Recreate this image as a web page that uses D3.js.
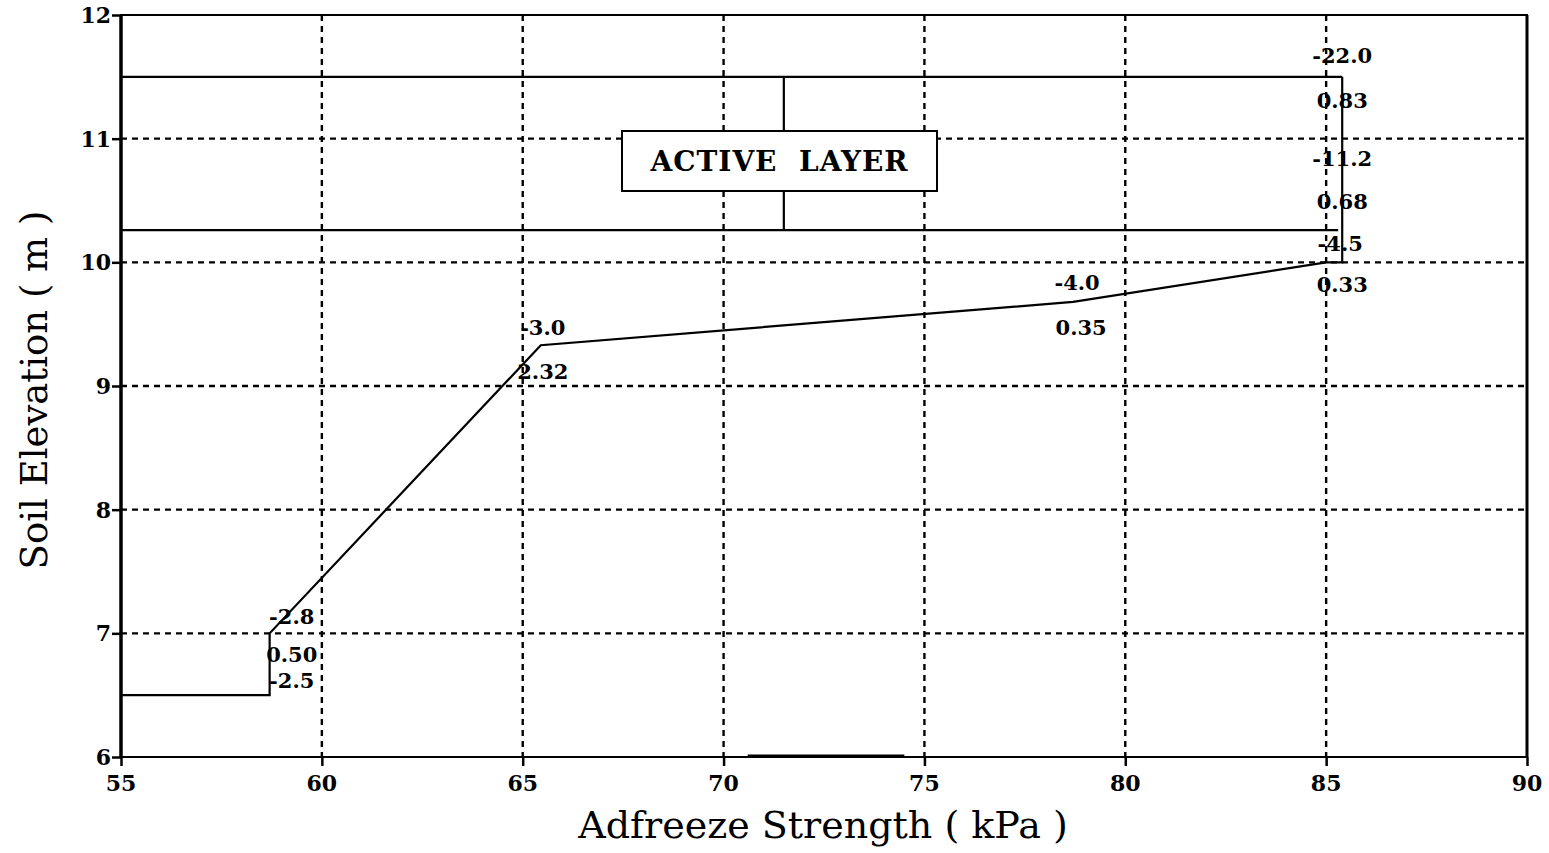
<!DOCTYPE html>
<html><head><meta charset="utf-8">
<script src="https://cdn.jsdelivr.net/npm/d3@7"></script>
<style>body{margin:0;background:#fff;} svg{display:block;}</style>
</head><body>
<svg id="c" width="1549" height="853"></svg>
<script>
const xTicks = [55,60,65,70,75,80,85,90];
const yTicks = [6,7,8,9,10,11,12];
const curveX = [55, 58.7, 58.7, 65.45, 78.7, 85.0, 85.4, 85.4];
const curveY = [6.5, 6.5, 7.0, 9.33, 9.68, 10.0, 10.0, 11.5];
const layerTop = 11.5, layerBottom = 10.26, layerMarkX = 71.5;
const labelText = ["-22.0","0.83","-11.2","0.68","-4.5","0.33","-4.0","0.35","-3.0","2.32","-2.8","0.50","-2.5"];
const labelX = [85.4,85.4,85.4,85.4,85.35,85.4,78.8,78.9,65.5,65.5,59.25,59.25,59.25];
const labelY = [11.67,11.31,10.84,10.49,10.15,9.82,9.84,9.47,9.47,9.12,7.14,6.83,6.62];
const boxText = "ACTIVE  LAYER";

const svg = d3.select("#c");
const L=121, R=1527, T=15, B=757;
const x = d3.scaleLinear().domain([55,90]).range([L,R]);
const y = d3.scaleLinear().domain([6,12]).range([B,T]);

// grid
const g = svg.append("g");
g.selectAll(".vg").data(xTicks.filter(d=>d>55&&d<90)).enter().append("line")
  .attr("x1",d=>x(d)).attr("x2",d=>x(d)).attr("y1",T).attr("y2",B)
  .attr("stroke","#000").attr("stroke-width",2.4).attr("stroke-dasharray","6,5");
g.selectAll(".hg").data(yTicks.filter(d=>d>6&&d<12)).enter().append("line")
  .attr("x1",L).attr("x2",R).attr("y1",d=>y(d)).attr("y2",d=>y(d))
  .attr("stroke","#000").attr("stroke-width",2.4).attr("stroke-dasharray","6,5");

// frame
svg.append("rect").attr("x",L).attr("y",T).attr("width",R-L).attr("height",B-T)
  .attr("fill","none").attr("stroke","#000").attr("stroke-width",2);
svg.append("line").attr("x1",L).attr("x2",L).attr("y1",T).attr("y2",B).attr("stroke","#000").attr("stroke-width",3.5);
svg.append("line").attr("x1",R).attr("x2",R).attr("y1",T).attr("y2",B).attr("stroke","#000").attr("stroke-width",3);

// axes (ticks via d3 axis, labels drawn from the same scales)
const xAxis = d3.axisBottom(x).tickValues(xTicks).tickSize(9).tickFormat("");
const xa = svg.append("g").attr("transform",`translate(0,${B})`).call(xAxis);
xa.select(".domain").remove();
xa.selectAll("line").attr("stroke","#000").attr("stroke-width",2.5);
const yAxis = d3.axisLeft(y).tickValues(yTicks).tickSize(9).tickFormat("");
const ya = svg.append("g").attr("transform",`translate(${L},0)`).call(yAxis);
ya.select(".domain").remove();
ya.selectAll("line").attr("stroke","#000").attr("stroke-width",2.5);

svg.selectAll(".xl").data(xTicks).enter().append("text")
  .attr("x",d=>x(d)).attr("y",B+34).attr("text-anchor","middle")
  .attr("font-family","'DejaVu Serif', serif").attr("font-weight","bold").attr("font-size",22)
  .text(d=>d);
svg.selectAll(".yl").data(yTicks).enter().append("text")
  .attr("x",L-10).attr("y",d=>y(d)).attr("dy","0.36em").attr("text-anchor","end")
  .attr("font-family","'DejaVu Serif', serif").attr("font-weight","bold").attr("font-size",22)
  .text(d=>d);

// active layer lines
svg.append("line").attr("x1",L).attr("x2",x(85.4)).attr("y1",y(layerTop)).attr("y2",y(layerTop)).attr("stroke","#000").attr("stroke-width",2.2);
svg.append("line").attr("x1",L).attr("x2",x(85.3)).attr("y1",y(layerBottom)).attr("y2",y(layerBottom)).attr("stroke","#000").attr("stroke-width",2.2);
svg.append("line").attr("x1",x(layerMarkX)).attr("x2",x(layerMarkX)).attr("y1",y(layerTop)).attr("y2",y(layerBottom)).attr("stroke","#000").attr("stroke-width",2.2);

// bottom thick segment
svg.append("line").attr("x1",x(70.6)).attr("x2",x(74.5)).attr("y1",B-1).attr("y2",B-1).attr("stroke","#000").attr("stroke-width",3);

// curve
const line = d3.line().x((d,i)=>x(curveX[i])).y((d,i)=>y(curveY[i]));
svg.append("path").attr("d",line(curveX)).attr("fill","none").attr("stroke","#000").attr("stroke-width",2.2);

// box
const bx0 = 622, bx1 = 937, by0 = 131, by1 = 191;
svg.append("rect").attr("x",bx0).attr("y",by0).attr("width",bx1-bx0).attr("height",by1-by0)
  .attr("fill","#fff").attr("stroke","#000").attr("stroke-width",2);
svg.append("text").attr("x",(bx0+bx1)/2).attr("y",(by0+by1)/2).attr("dy","0.36em")
  .attr("text-anchor","middle").attr("font-family","'DejaVu Serif', serif").attr("font-weight","bold")
  .attr("font-size",28).style("letter-spacing","1px").style("white-space","pre").text(boxText);

// point labels
svg.selectAll(".lbl").data(labelText).enter().append("text")
  .attr("x",(d,i)=>x(labelX[i])).attr("y",(d,i)=>y(labelY[i])).attr("dy","0.36em")
  .attr("text-anchor","middle").attr("font-family","'DejaVu Serif', serif").attr("font-weight","bold")
  .attr("font-size",21).attr("fill","#000").text(d=>d);

// titles
svg.append("text").attr("x",823).attr("y",838).attr("text-anchor","middle")
  .attr("font-family","'DejaVu Serif', serif").attr("font-size",38).text("Adfreeze Strength ( kPa )");
svg.append("text").attr("transform",`translate(47,${390}) rotate(-90)`).attr("text-anchor","middle")
  .attr("font-family","'DejaVu Serif', serif").attr("font-size",37).text("Soil Elevation ( m )");
</script>
</body></html>
